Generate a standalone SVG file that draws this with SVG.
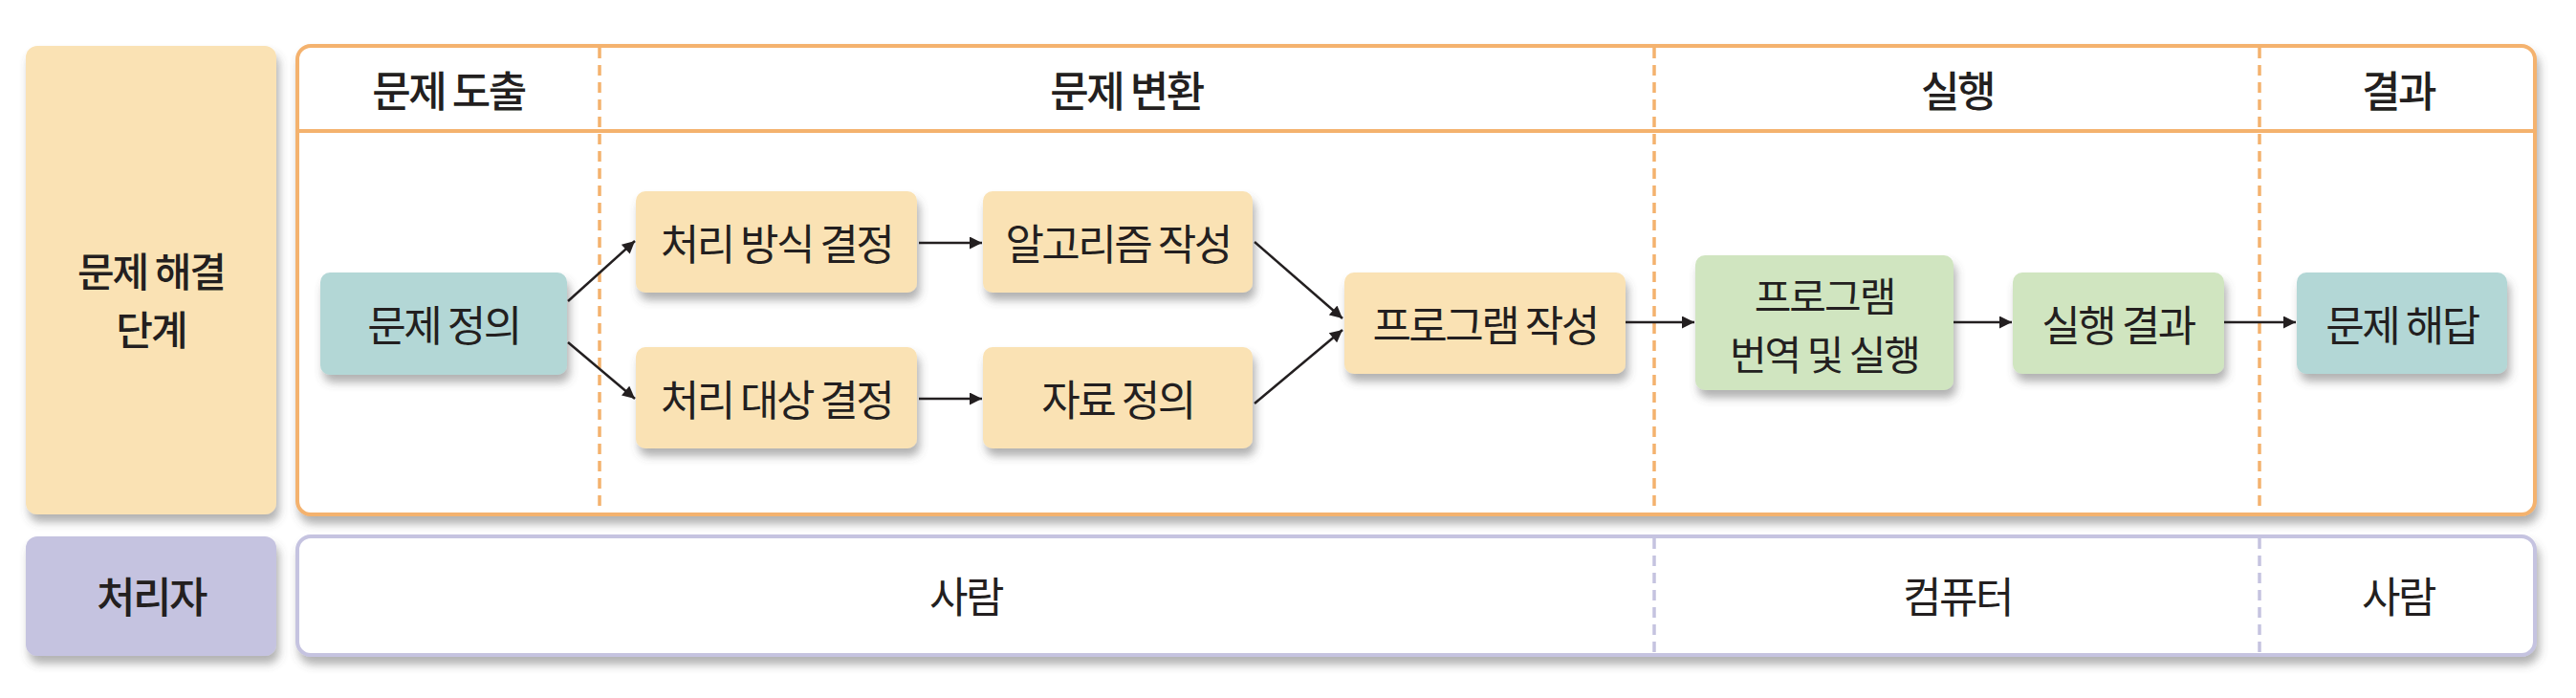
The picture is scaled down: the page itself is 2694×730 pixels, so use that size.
<svg xmlns="http://www.w3.org/2000/svg" width="2694" height="730" viewBox="0 0 2694 730">
<style>
text{font-family:"Noto Sans CJK KR","Noto Sans",sans-serif;fill:#231f20;text-anchor:middle;dominant-baseline:central;}
.hd{font-size:44px;font-weight:500;letter-spacing:-2.5px;}
.nt{font-size:44px;font-weight:400;letter-spacing:-2.5px;}
.two{font-size:42px;letter-spacing:-2px;}
.peach{fill:#fae2b4;}
.teal{fill:#b3d7d6;}
.green{fill:#d0e5c0;}
.lav{fill:#c5c3e0;}
.conn line{stroke:#231f20;stroke-width:2.5;fill:none;marker-end:url(#ah);}
.dashO{stroke:#f4b26e;stroke-width:3.5;stroke-dasharray:11 7;}
.dashL{stroke:#c5c3e0;stroke-width:3.5;stroke-dasharray:11 7;}
</style>
<defs>
<filter id="sh" x="-10%" y="-10%" width="125%" height="140%">
<feDropShadow dx="3" dy="8" stdDeviation="5" flood-color="#555" flood-opacity="0.45"/>
</filter>
<marker id="ah" viewBox="0 0 10 10" refX="10" refY="5" markerWidth="14" markerHeight="13" markerUnits="userSpaceOnUse" orient="auto">
<path d="M0,0 L10,5 L0,10 z" fill="#231f20"/>
</marker>
</defs>
<rect width="2694" height="730" fill="#ffffff"/>

<g id="stage-label">
<rect class="peach" x="27" y="48" width="262" height="490" rx="12" filter="url(#sh)"/>
<text class="hd two" x="158" y="281">문제 해결</text>
<text class="hd two" x="158" y="342">단계</text>
</g>

<g id="stage-panel">
<rect x="311" y="48" width="2340" height="490" rx="14" fill="#ffffff" stroke="#f4b26e" stroke-width="4" filter="url(#sh)"/>
<line x1="311" y1="137" x2="2651" y2="137" stroke="#f4b26e" stroke-width="4"/>
<line class="dashO" x1="627" y1="50" x2="627" y2="536"/>
<line class="dashO" x1="1730" y1="50" x2="1730" y2="536"/>
<line class="dashO" x1="2363" y1="50" x2="2363" y2="536"/>
<text class="hd" x="469" y="93">문제 도출</text>
<text class="hd" x="1178" y="93">문제 변환</text>
<text class="hd" x="2047" y="93">실행</text>
<text class="hd" x="2508" y="93">결과</text>
</g>

<g id="actor-label">
<rect class="lav" x="27" y="561" width="262" height="125" rx="12" filter="url(#sh)"/>
<text class="hd" x="158" y="622">처리자</text>
</g>

<g id="actor-panel">
<rect x="311" y="561" width="2340" height="124" rx="14" fill="#ffffff" stroke="#c5c3e0" stroke-width="4" filter="url(#sh)"/>
<line class="dashL" x1="1730" y1="563" x2="1730" y2="683"/>
<line class="dashL" x1="2363" y1="563" x2="2363" y2="683"/>
<text class="nt" x="1010" y="622">사람</text>
<text class="nt" x="2047" y="622">컴퓨터</text>
<text class="nt" x="2508" y="622">사람</text>
</g>

<g id="n-define">
<rect class="teal" x="335" y="285" width="258" height="107" rx="10" filter="url(#sh)"/>
<text class="nt" x="464" y="338">문제 정의</text>
</g>
<g id="n-method">
<rect class="peach" x="665" y="200" width="294" height="106" rx="10" filter="url(#sh)"/>
<text class="nt" x="812" y="253">처리 방식 결정</text>
</g>
<g id="n-algo">
<rect class="peach" x="1028" y="200" width="282" height="106" rx="10" filter="url(#sh)"/>
<text class="nt" x="1169" y="253">알고리즘 작성</text>
</g>
<g id="n-target">
<rect class="peach" x="665" y="363" width="294" height="106" rx="10" filter="url(#sh)"/>
<text class="nt" x="812" y="416">처리 대상 결정</text>
</g>
<g id="n-data">
<rect class="peach" x="1028" y="363" width="282" height="106" rx="10" filter="url(#sh)"/>
<text class="nt" x="1169" y="416">자료 정의</text>
</g>
<g id="n-program">
<rect class="peach" x="1406" y="285" width="294" height="106" rx="10" filter="url(#sh)"/>
<text class="nt" x="1553" y="338">프로그램 작성</text>
</g>
<g id="n-compile">
<rect class="green" x="1773" y="267" width="270" height="141" rx="10" filter="url(#sh)"/>
<text class="nt two" x="1908" y="307">프로그램</text>
<text class="nt two" x="1908" y="368">번역 및 실행</text>
</g>
<g id="n-result">
<rect class="green" x="2105" y="285" width="221" height="106" rx="10" filter="url(#sh)"/>
<text class="nt" x="2215" y="338">실행 결과</text>
</g>
<g id="n-answer">
<rect class="teal" x="2402" y="285" width="220" height="106" rx="10" filter="url(#sh)"/>
<text class="nt" x="2512" y="338">문제 해답</text>
</g>

<g id="connectors" class="conn">
<line x1="594" y1="315" x2="664" y2="252"/>
<line x1="594" y1="358" x2="664" y2="417"/>
<line x1="961" y1="254" x2="1027" y2="254"/>
<line x1="961" y1="417" x2="1027" y2="417"/>
<line x1="1312" y1="253" x2="1404" y2="333"/>
<line x1="1312" y1="422" x2="1404" y2="345"/>
<line x1="1700" y1="337" x2="1772" y2="337"/>
<line x1="2043" y1="337" x2="2104" y2="337"/>
<line x1="2326" y1="337" x2="2401" y2="337"/>
</g>
</svg>
